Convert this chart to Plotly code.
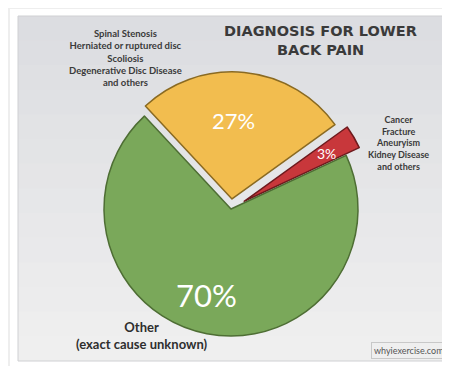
import plotly.graph_objects as go

# ---- data ----
categories = ["Spinal Stenosis, Herniated disc, Scoliosis, Degenerative Disc Disease and others",
              "Cancer, Fracture, Aneuryism, Kidney Disease and others",
              "Other (exact cause unknown)"]
values = [27, 3, 70]
left_label_lines = ["Spinal Stenosis", "Herniated or ruptured disc", "Scoliosis",
                    "Degenerative Disc Disease", "and others"]
right_label_lines = ["Cancer", "Fracture", "Aneuryism", "Kidney Disease", "and others"]
bottom_label_lines = ["Other", "(exact cause unknown)"]
title_lines = ["DIAGNOSIS FOR LOWER", "BACK PAIN"]
source_text = "whyiexercise.com"

W, H = 450, 366
colors = ["#f2bd4f", "#c8373b", "#7aa85a"]
edge_colors = ["#8a6a22", "#6e1a1d", "#4e6e34"]
pulls = [0.08, 0.12, 0.0]


def px(x):
    return x / W


def py(y):
    return 1 - y / H


fig = go.Figure()
fig.add_trace(go.Pie(
    labels=categories,
    values=values,
    sort=False,
    direction="clockwise",
    rotation=-43,
    pull=pulls,
    marker=dict(colors=colors, line=dict(color=edge_colors, width=1.5)),
    textinfo="none",
    hoverinfo="label+percent",
    showlegend=False,
    domain=dict(x=[px(80.75), px(365.25)], y=[py(343.25), py(58.75)]),
))

shapes = []
# outer frame / shadow
shapes.append(dict(type="rect", xref="paper", yref="paper", x0=0, x1=1, y0=0, y1=py(358),
                   fillcolor="#c4c4c4", line=dict(width=0), layer="below"))
shapes.append(dict(type="rect", xref="paper", yref="paper", x0=px(2), x1=px(446), y0=py(359), y1=py(1),
                   fillcolor="#ffffff", line=dict(width=0), layer="below"))
# inner panel with a soft vertical gradient (overlapping bands, no seams)
top_c = (0xdc, 0xdd, 0xe1)
bot_c = (0xef, 0xef, 0xef)
nb = 14
y_top, y_bot = 8, 353
for i in range(nb):
    t = i / (nb - 1)
    c = tuple(round(top_c[k] + (bot_c[k] - top_c[k]) * t) for k in range(3))
    ya = y_top + (y_bot - y_top) * i / nb
    shapes.append(dict(type="rect", xref="paper", yref="paper", x0=px(10), x1=px(438),
                       y0=py(y_bot), y1=py(ya), fillcolor="rgb(%d,%d,%d)" % c,
                       line=dict(width=0), layer="below"))
shapes.append(dict(type="rect", xref="paper", yref="paper", x0=px(10), x1=px(438), y0=py(353), y1=py(8),
                   fillcolor="rgba(0,0,0,0)", line=dict(color="#cfd0d3", width=1), layer="below"))

annotations = []
font_face = "Lato"


def add_text(x, y, text, size, color, family=font_face, bold=False):
    annotations.append(dict(x=px(x), y=py(y), xref="paper", yref="paper",
                            text=("<b>%s</b>" % text) if bold else text,
                            showarrow=False, align="center", xanchor="center", yanchor="middle",
                            font=dict(family=family, size=size, color=color)))


# percentage labels
pct_pos = [(225, 112, 22), (318, 145, 14), (198, 287, 31)]
for v, (x, y, s) in zip(values, pct_pos):
    add_text(x, y, f"{v}%", s, "white")

# group labels
add_text(117, 50, "<br>".join(left_label_lines), 9.5, "#3a3a3a", bold=True)
add_text(390, 135, "<br>".join(right_label_lines), 9, "#3a3a3a", bold=True)
add_text(134, 327, "<br>".join(bottom_label_lines), 13, "#2e2e2e", bold=True)
# title
for i, line in enumerate(title_lines):
    add_text(312, 23 + 19.5 * i, line, 14.5, "#3a3a3a", family="DejaVu Sans", bold=True)

# source box
annotations.append(dict(x=px(401), y=py(342), xref="paper", yref="paper", text=source_text,
                        showarrow=False, xanchor="center", yanchor="middle",
                        bgcolor="#efefef", bordercolor="#c8c8c8", borderwidth=1, borderpad=2,
                        font=dict(family=font_face, size=9, color="#555555")))

fig.update_layout(
    width=W, height=H,
    margin=dict(l=0, r=0, t=0, b=0),
    paper_bgcolor="#eeeeee",
    plot_bgcolor="#eeeeee",
    shapes=shapes,
    annotations=annotations,
)

fig.write_html("out.html")
